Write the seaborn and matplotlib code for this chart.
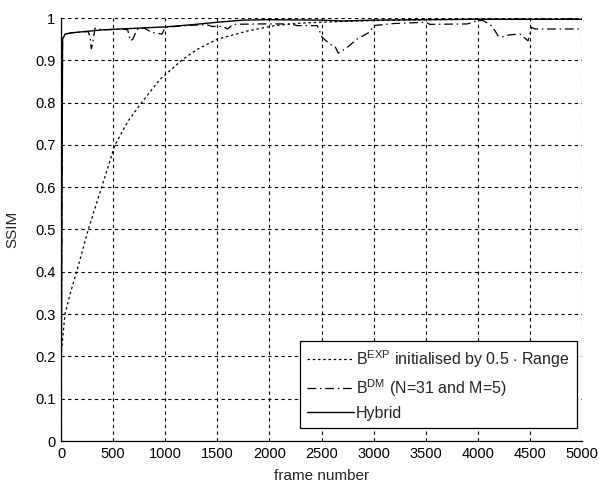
import matplotlib
matplotlib.use("Agg")
import matplotlib.pyplot as plt
import seaborn as sns
import pandas as pd

# ---- data ----
exp_frames = [0, 38, 90, 150, 262, 390, 518, 640, 774, 950, 1158, 1300, 1500, 1800, 2050,
              2300, 2600, 3000, 3500, 4000, 5000]
exp_ssim = [0.20, 0.30, 0.35, 0.40, 0.50, 0.60, 0.70, 0.755, 0.80, 0.855, 0.90, 0.925, 0.95,
            0.97, 0.982, 0.988, 0.991, 0.994, 0.996, 0.997, 0.998]

dm_frames = [0, 15, 40, 100, 260, 280, 290, 305, 326, 400, 600, 640, 665, 690, 710, 740, 800,
             870, 970, 1000, 1250, 1400, 1450, 1555, 1600, 1650, 1900, 2200, 2265, 2460, 2505,
             2580, 2630, 2660, 2745, 2840, 2965, 2995, 3200, 3500, 3540, 3900, 4000, 4050, 4133,
             4195, 4229, 4300, 4405, 4482, 4517, 4550, 5000]
dm_ssim = [0.0, 0.95, 0.962, 0.965, 0.968, 0.955, 0.927, 0.94, 0.976, 0.972, 0.974, 0.972,
           0.946, 0.95, 0.962, 0.975, 0.976, 0.966, 0.962, 0.978, 0.983, 0.984, 0.98, 0.98,
           0.974, 0.985, 0.986, 0.986, 0.982, 0.982, 0.955, 0.938, 0.933, 0.917, 0.93, 0.95,
           0.967, 0.982, 0.987, 0.99, 0.985, 0.986, 0.994, 0.994, 0.982, 0.958, 0.955, 0.96,
           0.962, 0.946, 0.978, 0.974, 0.974]

hyb_frames = [0, 15, 40, 100, 400, 1000, 1250, 1500, 1750, 2000, 2500, 2700, 3000, 4000, 5000]
hyb_ssim = [0.0, 0.95, 0.962, 0.965, 0.972, 0.979, 0.984, 0.99, 0.995, 0.996, 0.995, 0.993,
            0.995, 0.997, 0.997]

labels = [r"$\mathregular{B^{EXP}}$ initialised by 0.5 $\cdot$ Range",
          r"$\mathregular{B^{DM}}$ (N=31 and M=5)",
          "Hybrid"]
x_ticks = list(range(0, 5001, 500))
y_ticks = [0, 0.1, 0.2, 0.3, 0.4, 0.5, 0.6, 0.7, 0.8, 0.9, 1]
y_tick_labels = ["0", "0.1", "0.2", "0.3", "0.4", "0.5", "0.6", "0.7", "0.8", "0.9", "1"]

# ---- style ----
sns.set_style("white")
plt.rcParams["font.family"] = ["Liberation Sans", "DejaVu Sans"]
plt.rcParams["mathtext.fontset"] = "custom"
plt.rcParams["mathtext.rm"] = "Liberation Sans"
plt.rcParams["mathtext.it"] = "Liberation Sans:italic"
plt.rcParams["mathtext.bf"] = "Liberation Sans:bold"

fig = plt.figure(figsize=(5.99, 4.86), dpi=100)
ax = fig.add_axes([61 / 599, 45 / 486, 521 / 599, 423 / 486])

df_exp = pd.DataFrame({"frame": exp_frames, "ssim": exp_ssim})
df_dm = pd.DataFrame({"frame": dm_frames, "ssim": dm_ssim})
df_hyb = pd.DataFrame({"frame": hyb_frames, "ssim": hyb_ssim})

sns.lineplot(data=df_exp, x="frame", y="ssim", ax=ax, color="black", lw=0.9,
             label=labels[0], estimator=None, sort=False)
ax.lines[-1].set_dashes((2, 2.2))
sns.lineplot(data=df_dm, x="frame", y="ssim", ax=ax, color="black", lw=0.9,
             label=labels[1], estimator=None, sort=False)
ax.lines[-1].set_dashes((7, 3, 1.2, 3))
sns.lineplot(data=df_hyb, x="frame", y="ssim", ax=ax, color="black", lw=1.0,
             label=labels[2], estimator=None, sort=False)

ax.set_xlim(0, 5000)
ax.set_ylim(0, 1)
ax.set_xticks(x_ticks)
ax.set_yticks(y_ticks)
ax.set_yticklabels(y_tick_labels)
ax.set_xlabel("frame number", fontsize=11, labelpad=6)
ax.set_ylabel("SSIM", fontsize=11, labelpad=11)
ax.tick_params(axis="both", direction="in", length=5, width=0.8, labelsize=10.5,
               colors="black", pad=4)

ax.grid(True, color="black", linestyle=(0, (3, 3)), linewidth=0.8)
for s in ["top", "right"]:
    ax.spines[s].set_visible(False)
for s in ["left", "bottom"]:
    ax.spines[s].set_color("black")
    ax.spines[s].set_linewidth(0.9)

leg = ax.legend(loc="lower right", frameon=True, fancybox=False, edgecolor="black",
                framealpha=1, fontsize=11.5, handlelength=2.9, handletextpad=0.15,
                borderpad=0.45, labelspacing=0.45, borderaxespad=0,
                bbox_to_anchor=(577 / 599 * 599 / 521 - 61 / 521, (441 - 428) / 423))
leg.get_frame().set_linewidth(0.9)

fig.savefig("out.png", dpi=100)
